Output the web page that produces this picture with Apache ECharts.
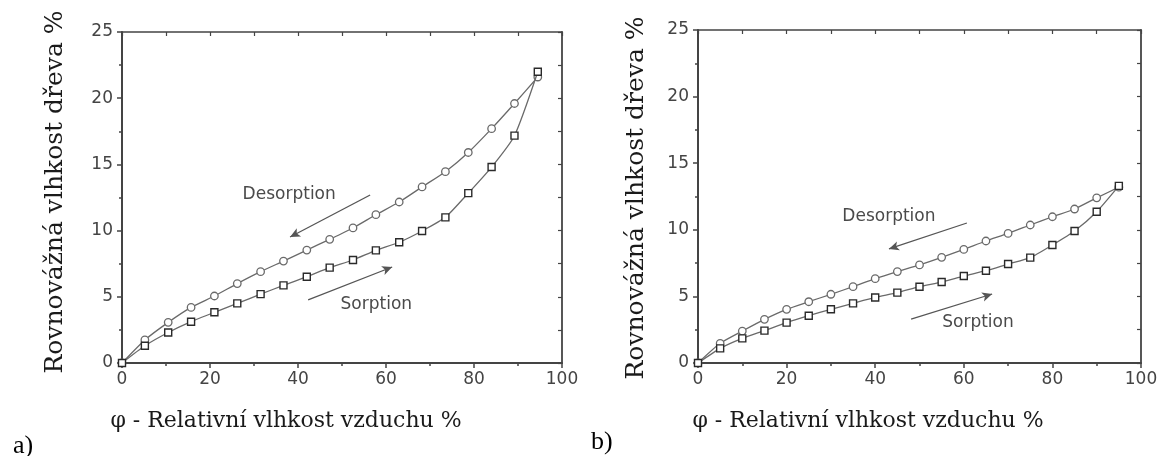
<!DOCTYPE html>
<html>
<head>
<meta charset="utf-8">
<script src="https://cdn.jsdelivr.net/npm/echarts@6/dist/echarts.min.js"></script>
<style>
html,body{margin:0;padding:0;background:#fff;}
#c{width:1166px;height:456px;}
</style>
</head>
<body>
<div id="c"></div>
<script>
// ---- data ----
// chart a)
const xA = [0, 5.2, 10.5, 15.7, 21, 26.2, 31.5, 36.7, 42, 47.2, 52.5, 57.7, 63, 68.2, 73.5, 78.7, 84, 89.2, 94.5];
const desorptionA = [0, 1.74, 3.07, 4.2, 5.06, 6.0, 6.9, 7.7, 8.53, 9.34, 10.2, 11.2, 12.16, 13.3, 14.45, 15.9, 17.7, 19.6, 21.6];
const sorptionA = [0, 1.3, 2.3, 3.12, 3.83, 4.5, 5.2, 5.86, 6.52, 7.2, 7.78, 8.51, 9.12, 9.97, 11.0, 12.83, 14.8, 17.17, 22.0];
// chart b)
const xB = [0, 5, 10, 15, 20, 25, 30, 35, 40, 45, 50, 55, 60, 65, 70, 75, 80, 85, 90, 95];
const desorptionB = [0, 1.48, 2.4, 3.28, 4.03, 4.6, 5.16, 5.73, 6.33, 6.86, 7.36, 7.93, 8.53, 9.16, 9.73, 10.36, 10.98, 11.56, 12.4, 13.2];
const sorptionB = [0, 1.1, 1.85, 2.43, 3.03, 3.55, 4.03, 4.48, 4.92, 5.28, 5.73, 6.08, 6.53, 6.93, 7.43, 7.91, 8.86, 9.91, 11.36, 13.3];
// annotation arrows [x1,y1,x2,y2] in data units (head at second point)
const arrowDesA = [56.4, 12.69, 38.2, 9.52];
const arrowSorA = [42.3, 4.76, 61.4, 7.25];
const arrowDesB = [60.7, 10.51, 43.1, 8.56];
const arrowSorB = [48.1, 3.30, 66.4, 5.18];
// annotation labels [x, y]
const labelDesA = [38.0, 12.7];
const labelSorA = [57.8, 4.38];
const labelDesB = [43.1, 10.96];
const labelSorB = [63.2, 3.0];
// texts
const xTicks = [0, 20, 40, 60, 80, 100];
const yTicks = [0, 5, 10, 15, 20, 25];
const yTitle = 'Rovnovážná vlhkost dřeva %';
const xTitle = 'φ - Relativní vlhkost vzduchu %';
const desText = 'Desorption';
const sorText = 'Sorption';
const panelLabels = ['a)', 'b)'];

// ---- chart ----
const axisCol = '#444';
const tickFont = {fontFamily: 'DejaVu Sans', fontSize: 17, color: '#444'};

function pairs(xs, ys) { return xs.map((x, i) => [x, ys[i]]); }

function bottomX(gi) {
  return {
    type: 'value', gridIndex: gi, position: 'bottom', min: xTicks[0], max: xTicks[xTicks.length - 1], interval: 20,
    axisLine: {show: true, onZero: false, lineStyle: {color: axisCol, width: 2}},
    axisTick: {show: true, inside: false, length: 5, lineStyle: {color: axisCol, width: 1.5}},
    minorTick: {show: true, splitNumber: 2, length: 3, lineStyle: {color: axisCol, width: 1.5}},
    axisLabel: Object.assign({margin: 8}, tickFont),
    splitLine: {show: false}
  };
}
function topX(gi) {
  return {
    type: 'value', gridIndex: gi, position: 'top', min: 0, max: 100, interval: 10,
    axisLine: {show: true, onZero: false, lineStyle: {color: axisCol, width: 1.5}},
    axisTick: {show: true, inside: true, length: 4, lineStyle: {color: axisCol, width: 1.2}},
    axisLabel: {show: false}, splitLine: {show: false}
  };
}
function leftY(gi) {
  return {
    type: 'value', gridIndex: gi, position: 'left', min: yTicks[0], max: yTicks[yTicks.length - 1], interval: 5,
    axisLine: {show: true, onZero: false, lineStyle: {color: axisCol, width: 2}},
    axisTick: {show: true, inside: false, length: 5, lineStyle: {color: axisCol, width: 1.5}},
    minorTick: {show: true, splitNumber: 2, length: 3, lineStyle: {color: axisCol, width: 1.5}},
    axisLabel: Object.assign({margin: 9}, tickFont),
    splitLine: {show: false}
  };
}
function rightY(gi) {
  return {
    type: 'value', gridIndex: gi, position: 'right', min: 0, max: 25, interval: 2.5,
    axisLine: {show: true, onZero: false, lineStyle: {color: axisCol, width: 1.8}},
    axisTick: {show: true, inside: true, length: 4, lineStyle: {color: axisCol, width: 1.2}},
    axisLabel: {show: false}, splitLine: {show: false}
  };
}

function arrowML(arr) {
  return [{coord: [arr[0], arr[1]], symbol: 'none'}, {coord: [arr[2], arr[3]], symbol: 'arrow', symbolSize: [7, 10]}];
}
function textMP(pos, txt) {
  return {coord: pos, symbol: 'circle', symbolSize: 0,
    label: {show: true, position: 'inside', formatter: txt, fontFamily: 'DejaVu Sans', fontSize: 17, color: '#4a4a4a'}};
}

function seriesFor(xi, yi, xs, des, sor, aDes, aSor, lDes, lSor) {
  return [
    {
      type: 'line', xAxisIndex: xi, yAxisIndex: yi, data: pairs(xs, des),
      symbol: 'circle', symbolSize: 7.5, showAllSymbol: true, smooth: 0.2,
      lineStyle: {color: '#6a6a6a', width: 1.3},
      itemStyle: {color: '#fff', borderColor: '#6a6a6a', borderWidth: 1.3},
      markLine: {silent: true, symbol: ['none', 'arrow'], label: {show: false},
        lineStyle: {color: '#555', width: 1.3, type: 'solid'},
        data: [arrowML(aDes), arrowML(aSor)]},
      markPoint: {silent: true, data: [textMP(lDes, desText), textMP(lSor, sorText)]},
      z: 3
    },
    {
      type: 'line', xAxisIndex: xi, yAxisIndex: yi, data: pairs(xs, sor),
      symbol: 'rect', symbolSize: 7, showAllSymbol: true, smooth: 0.2,
      lineStyle: {color: '#6a6a6a', width: 1.3},
      itemStyle: {color: '#fff', borderColor: '#2a2a2a', borderWidth: 1.4},
      z: 4
    }
  ];
}

const chart = echarts.init(document.getElementById('c'), null, {renderer: 'canvas'});
chart.setOption({
  animation: false,
  backgroundColor: '#fff',
  grid: [
    {left: 122, top: 32, right: 604, bottom: 93, containLabel: false},
    {left: 698, top: 30, right: 25, bottom: 93, containLabel: false}
  ],
  xAxis: [bottomX(0), topX(0), bottomX(1), topX(1)],
  yAxis: [leftY(0), rightY(0), leftY(1), rightY(1)],
  series: [].concat(
    seriesFor(0, 0, xA, desorptionA, sorptionA, arrowDesA, arrowSorA, labelDesA, labelSorA),
    seriesFor(2, 2, xB, desorptionB, sorptionB, arrowDesB, arrowSorB, labelDesB, labelSorB)
  ),
  graphic: [
    {type: 'text', x: 55, y: 192, rotation: Math.PI / 2,
      style: {text: yTitle, font: '25px "DejaVu Serif"', fill: '#1a1a1a', align: 'center', verticalAlign: 'middle'}},
    {type: 'text', x: 636, y: 198, rotation: Math.PI / 2,
      style: {text: yTitle, font: '25px "DejaVu Serif"', fill: '#1a1a1a', align: 'center', verticalAlign: 'middle'}},
    {type: 'text', x: 286, y: 421,
      style: {text: xTitle, font: '22px "DejaVu Serif"', fill: '#1a1a1a', align: 'center', verticalAlign: 'middle'}},
    {type: 'text', x: 868, y: 421,
      style: {text: xTitle, font: '22px "DejaVu Serif"', fill: '#1a1a1a', align: 'center', verticalAlign: 'middle'}},
    {type: 'text', x: 13, y: 446,
      style: {text: panelLabels[0], font: '26px "Liberation Serif"', fill: '#000', align: 'left', verticalAlign: 'middle'}},
    {type: 'text', x: 591, y: 442,
      style: {text: panelLabels[1], font: '26px "Liberation Serif"', fill: '#000', align: 'left', verticalAlign: 'middle'}}
  ]
});
</script>
</body>
</html>
